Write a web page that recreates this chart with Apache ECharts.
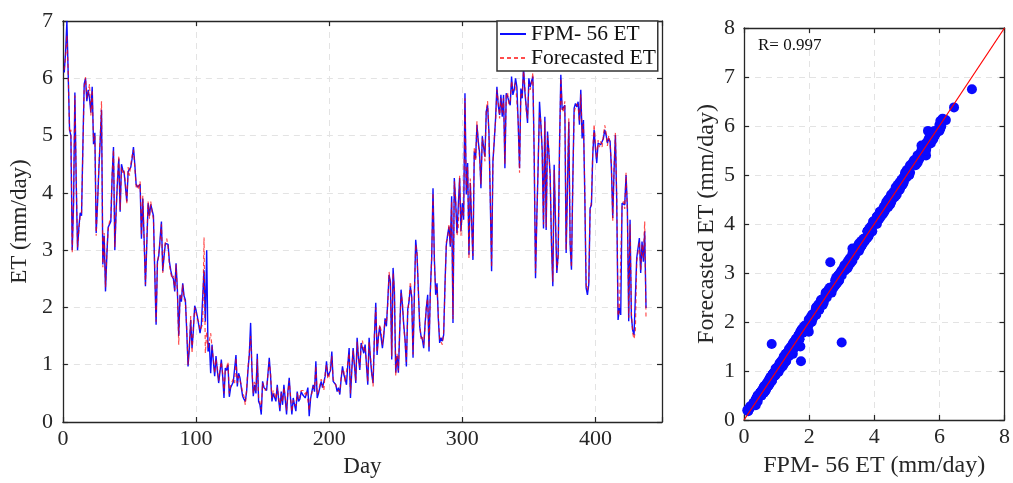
<!DOCTYPE html>
<html>
<head>
<meta charset="utf-8">
<script src="https://cdn.jsdelivr.net/npm/echarts@6/dist/echarts.min.js"></script>
<style>
html,body{margin:0;padding:0;background:#fff;}
#chart{width:1013px;height:483px;}
</style>
</head>
<body>
<div id="chart"></div>
<script>
// ---- Data ----
var fpmET = [
6.1,6.45,7.0,6.05,5.1,5.0,3.0,3.8,5.75,4.2,
3.0,3.4,3.65,3.6,4.8,5.9,6.0,5.6,5.8,5.65,
5.4,5.85,4.85,5.05,3.3,3.8,4.4,4.9,5.45,2.75,
3.25,2.28,2.9,3.4,3.45,3.5,4.3,4.8,3.0,3.7,
4.2,4.6,3.67,4.5,4.4,4.35,4.1,3.85,4.37,4.35,
4.45,4.6,4.8,4.5,4.15,4.1,4.08,4.15,3.2,3.9,
3.2,2.37,3.1,3.82,3.6,3.8,3.7,3.6,2.6,1.7,
2.8,2.9,3.2,3.5,2.63,2.9,3.12,3.15,3.1,2.8,
2.65,2.54,2.5,2.28,2.77,2.3,1.5,2.22,2.1,2.42,
2.2,2.13,1.6,0.97,1.3,1.78,1.29,1.6,2.03,1.95,
1.84,1.7,1.55,1.7,1.68,2.65,1.75,3.0,1.23,1.38,
0.85,1.35,1.06,0.8,1.15,0.9,0.68,0.88,1.09,0.8,
0.42,0.94,0.9,1.0,0.44,0.6,0.65,0.7,0.71,1.17,
0.62,0.85,0.77,0.6,0.45,0.4,0.36,0.53,0.9,1.17,
1.73,0.9,0.45,0.65,0.5,1.19,0.36,0.3,0.13,0.71,
0.6,0.6,0.55,0.56,1.12,0.8,0.36,0.5,0.53,0.36,
0.65,0.4,0.19,0.53,0.3,0.65,0.4,0.13,0.53,0.77,
0.4,0.13,0.42,0.3,0.19,0.53,0.36,0.4,0.53,0.48,
0.5,0.42,0.5,0.6,0.1,0.4,0.53,0.65,0.53,1.06,
0.42,0.5,0.48,0.71,0.6,0.6,0.8,1.06,0.8,0.77,
0.9,1.23,0.71,0.74,0.65,0.53,0.6,0.48,0.75,0.97,
0.83,0.75,0.65,1.0,1.29,0.42,0.9,1.29,1.32,0.68,
1.47,1.12,0.91,1.38,1.38,1.2,1.35,1.0,0.65,1.47,
1.1,0.83,0.68,1.5,2.08,1.17,1.5,1.67,1.64,1.29,
1.5,1.81,1.67,2.1,2.57,2.45,1.09,2.69,2.28,0.86,
1.15,0.86,1.6,2.31,2.05,1.7,1.44,0.97,1.96,2.1,
2.37,2.19,1.12,2.2,3.18,2.92,2.3,1.67,1.5,1.44,
1.29,1.7,1.99,2.22,1.23,2.3,2.86,4.08,2.86,2.22,
2.42,1.8,1.38,1.47,1.41,1.52,2.4,3.09,3.27,3.41,
3.06,3.94,1.73,4.26,3.85,3.3,3.33,4.26,3.33,3.82,
3.53,5.74,3.97,4.52,2.92,4.17,3.5,2.83,4.72,4.6,
5.19,4.9,4.69,4.08,4.99,4.8,4.63,5.42,5.53,5.07,
3.9,2.63,4.55,4.9,5.3,5.85,5.53,5.36,5.71,5.33,
5.71,4.43,5.74,5.68,5.6,5.53,6.03,5.71,5.8,6.0,
5.85,5.2,4.43,5.82,5.65,6.2,5.77,5.5,5.22,6.0,
5.85,5.95,6.03,4.66,2.51,3.6,4.49,5.59,5.2,4.75,
3.38,5.33,3.35,5.07,4.7,4.31,3.09,2.37,4.49,3.5,
2.6,2.92,4.78,6.06,5.45,5.45,5.53,2.95,4.1,5.24,
3.09,2.66,4.2,5.48,5.56,5.5,5.59,5.19,5.8,4.95,
5.27,3.97,2.34,2.22,2.4,3.73,3.79,4.66,5.1,4.78,
4.52,4.87,4.87,4.84,4.84,4.95,5.1,5.01,4.87,4.95,
4.9,4.43,3.56,4.4,5.01,3.85,1.78,1.99,1.87,3.82,
3.8,3.79,4.31,3.73,1.76,3.53,1.84,1.6,1.52,1.55,
2.86,2.89,3.21,2.6,3.15,2.8,3.33,1.99
];
var forecastET = [
6.15,6.38,6.75,6.1,5.05,5.1,2.95,3.85,5.7,4.25,
3.05,3.35,3.6,3.65,4.75,5.85,6.02,5.65,5.75,5.9,
5.35,5.8,4.9,5.0,3.25,3.85,4.45,4.95,5.6,2.7,
3.3,2.35,2.95,3.35,3.5,3.55,4.35,4.75,3.05,3.65,
4.25,4.65,3.7,4.45,4.35,4.4,4.15,3.8,4.45,4.3,
4.5,4.65,4.75,4.45,4.1,4.15,4.05,4.2,3.25,3.95,
3.15,2.4,3.15,3.85,3.55,3.85,3.65,3.55,2.65,1.75,
2.75,2.95,3.15,3.45,2.6,2.95,3.15,3.2,3.05,2.75,
2.6,2.5,2.55,2.3,2.75,2.25,1.35,2.2,2.15,2.4,
2.15,2.1,1.65,1.0,1.35,1.85,1.2,1.65,2.0,1.9,
1.8,1.75,1.6,1.65,1.72,3.22,1.2,1.58,1.3,1.42,
1.55,1.3,1.1,0.85,1.1,0.95,0.72,0.92,1.05,0.85,
0.5,0.9,0.95,1.05,0.5,0.65,0.7,0.75,0.68,1.12,
0.68,0.8,0.8,0.65,0.5,0.45,0.3,0.58,0.95,1.2,
1.5,0.95,0.5,0.7,0.55,1.1,0.42,0.35,0.22,0.68,
0.65,0.55,0.6,0.6,1.05,0.85,0.42,0.55,0.5,0.4,
0.6,0.45,0.25,0.5,0.35,0.6,0.45,0.2,0.5,0.72,
0.45,0.18,0.38,0.35,0.28,0.5,0.4,0.45,0.55,0.52,
0.55,0.48,0.55,0.58,0.2,0.45,0.5,0.62,0.58,0.98,
0.48,0.55,0.52,0.75,0.65,0.55,0.85,1.0,0.75,0.8,
0.95,1.15,0.75,0.7,0.7,0.58,0.55,0.52,0.8,0.92,
0.88,0.7,0.7,1.05,1.2,0.5,0.95,1.25,1.28,0.72,
1.4,1.15,0.95,1.3,1.42,1.25,1.3,1.05,0.7,1.4,
1.15,0.88,0.62,1.55,2.0,1.22,1.45,1.7,1.6,1.35,
1.55,1.78,1.72,2.05,2.62,2.4,1.15,2.6,2.32,0.8,
1.2,0.9,1.65,2.25,2.1,1.65,1.4,1.05,1.9,2.15,
2.45,2.15,1.18,2.25,3.1,2.95,2.25,1.72,1.45,1.5,
1.35,1.65,2.05,2.15,1.3,2.25,2.9,4.0,2.8,2.3,
2.35,1.85,1.45,1.42,1.35,1.58,2.35,3.15,3.2,3.45,
3.1,3.85,1.8,4.2,3.9,3.25,3.4,4.3,3.25,3.75,
3.6,5.65,4.05,4.45,2.85,4.25,3.45,2.9,4.8,4.55,
5.25,4.85,4.6,4.15,4.95,4.85,4.55,5.45,5.6,5.0,
3.95,2.7,4.5,4.95,5.25,5.8,5.6,5.3,5.65,5.4,
5.65,4.5,5.7,5.75,5.55,5.6,5.95,5.78,5.75,5.92,
5.9,5.25,4.35,5.75,5.7,6.12,5.85,5.45,5.3,5.9,
5.8,5.9,6.1,4.6,2.6,3.55,4.55,5.4,5.25,4.7,
3.45,5.25,3.4,5.0,4.75,4.25,3.15,2.45,4.4,3.55,
2.65,2.85,4.7,6.0,5.5,5.4,5.6,3.0,4.15,5.3,
3.15,2.7,4.15,5.4,5.5,5.55,5.5,5.25,5.72,5.05,
5.2,4.05,2.4,2.3,2.45,3.7,3.85,4.75,5.2,4.85,
4.6,4.92,4.8,4.9,4.8,5.02,5.18,5.05,4.82,5.0,
4.85,4.5,3.5,4.45,5.05,3.9,1.85,1.95,1.93,3.75,
3.85,3.72,4.35,3.68,1.82,3.45,1.9,1.55,1.45,1.6,
2.8,2.95,3.15,2.65,3.1,2.85,3.5,1.8
];
var seriesNames = ['FPM- 56 ET', 'Forecasted ET'];
var fitLine = [[0, 0], [8, 8]];
var rText = 'R= 0.997';
var dayTicks = [0, 100, 200, 300, 400];

// ---- Build series data ----
var days = fpmET.map(function (v, i) { return i + 1; });
var fpmData = days.map(function (d, i) { return [d, fpmET[i]]; });
var fcData = days.map(function (d, i) { return [d, forecastET[i]]; });
var scatterData = fpmET.map(function (v, i) { return [v, forecastET[i]]; });

var FONT = 'Liberation Serif';
var AX = '#262626';
var split = { show: true, lineStyle: { color: '#e3e3e3', type: [6, 5], width: 1 } };

function mainAxis(extra) {
  var base = {
    type: 'value',
    axisLine: { show: true, onZero: false, lineStyle: { color: AX, width: 1.3 } },
    axisTick: { show: true, inside: true, length: 5, lineStyle: { color: AX, width: 1.2 } },
    axisLabel: { show: true, color: AX, fontFamily: FONT, fontSize: 22 },
    splitLine: split,
    nameTextStyle: { color: AX, fontFamily: FONT, fontSize: 23 }
  };
  for (var k in extra) base[k] = extra[k];
  return base;
}
function frameAxis(extra) {
  var base = {
    type: 'value',
    axisLine: { show: true, onZero: false, lineStyle: { color: AX, width: 1.3 } },
    axisTick: { show: true, inside: true, length: 5, lineStyle: { color: AX, width: 1.2 } },
    axisLabel: { show: false },
    splitLine: { show: false }
  };
  for (var k in extra) base[k] = extra[k];
  return base;
}

var chart = echarts.init(document.getElementById('chart'), null, { renderer: 'canvas' });
var option = {
  backgroundColor: '#ffffff',
  animation: false,
  textStyle: { fontFamily: FONT },
  grid: [
    { left: 58, right: 351, top: 21, bottom: 61, containLabel: false },
    { left: 744, right: 8, top: 28, bottom: 60, containLabel: false }
  ],
  xAxis: [
    mainAxis({ gridIndex: 0, min: 0, max: 450, interval: 100, position: 'bottom',
      name: 'Day', nameLocation: 'middle', nameGap: 33,
      axisLabel: { show: true, color: AX, fontFamily: FONT, fontSize: 22, margin: 6,
        formatter: function (v) { return dayTicks.indexOf(v) >= 0 ? String(v) : ''; } } }),
    frameAxis({ gridIndex: 0, min: 0, max: 450, interval: 100, position: 'top' }),
    mainAxis({ gridIndex: 1, min: 0, max: 8, interval: 2, position: 'bottom',
      name: 'FPM- 56 ET (mm/day)', nameLocation: 'middle', nameGap: 34,
      nameTextStyle: { color: AX, fontFamily: FONT, fontSize: 24 },
      axisLabel: { show: true, color: AX, fontFamily: FONT, fontSize: 22, margin: 6 } }),
    frameAxis({ gridIndex: 1, min: 0, max: 8, interval: 2, position: 'top' })
  ],
  yAxis: [
    mainAxis({ gridIndex: 0, min: 0, max: 7, interval: 1, position: 'left',
      name: 'ET (mm/day)', nameLocation: 'middle', nameGap: 22,
      axisLabel: { show: true, color: AX, fontFamily: FONT, fontSize: 22, margin: 10 } }),
    frameAxis({ gridIndex: 0, min: 0, max: 7, interval: 1, position: 'right' }),
    mainAxis({ gridIndex: 1, min: 0, max: 8, interval: 1, position: 'left',
      name: 'Forecasted ET (mm/day)', nameLocation: 'middle', nameGap: 25,
      nameTextStyle: { color: AX, fontFamily: FONT, fontSize: 24 },
      axisLabel: { show: true, color: AX, fontFamily: FONT, fontSize: 22, margin: 9 } }),
    frameAxis({ gridIndex: 1, min: 0, max: 8, interval: 1, position: 'right' })
  ],
  legend: {
    show: true,
    orient: 'vertical',
    left: 497, top: 21,
    data: seriesNames,
    itemWidth: 26, itemHeight: 10, itemGap: 2,
    itemStyle: { opacity: 0 },
    padding: [2, 2, 2, 2],
    backgroundColor: '#ffffff',
    borderColor: '#333333', borderWidth: 1.5,
    textStyle: { color: '#111', fontFamily: FONT, fontSize: 21.5 }
  },
  series: [
    { name: seriesNames[0], type: 'line', xAxisIndex: 0, yAxisIndex: 0, data: fpmData,
      showSymbol: false, symbol: 'none', color: '#0000ff',
      lineStyle: { color: '#0000ff', width: 1.4, opacity: 0.95 }, z: 2 },
    { name: seriesNames[1], type: 'line', xAxisIndex: 0, yAxisIndex: 0, data: fcData,
      showSymbol: false, symbol: 'none', color: '#ff0000',
      lineStyle: { color: '#ff0000', width: 1.2, type: [4, 3], opacity: 0.7 }, z: 3 },
    { name: 'scatter', type: 'scatter', xAxisIndex: 2, yAxisIndex: 2, data: scatterData,
      symbolSize: 10, itemStyle: { color: '#0a0aff', opacity: 1 }, z: 2 },
    { name: 'fit', type: 'line', xAxisIndex: 2, yAxisIndex: 2, data: fitLine,
      showSymbol: false, symbol: 'none', lineStyle: { color: '#ff0000', width: 1.2 }, z: 4 }
  ],
  graphic: [
    { type: 'text', left: 758, top: 37,
      style: { text: rText, fill: '#111', font: '17px "Liberation Serif"' } }
  ]
};
chart.setOption(option);
</script>
</body>
</html>
